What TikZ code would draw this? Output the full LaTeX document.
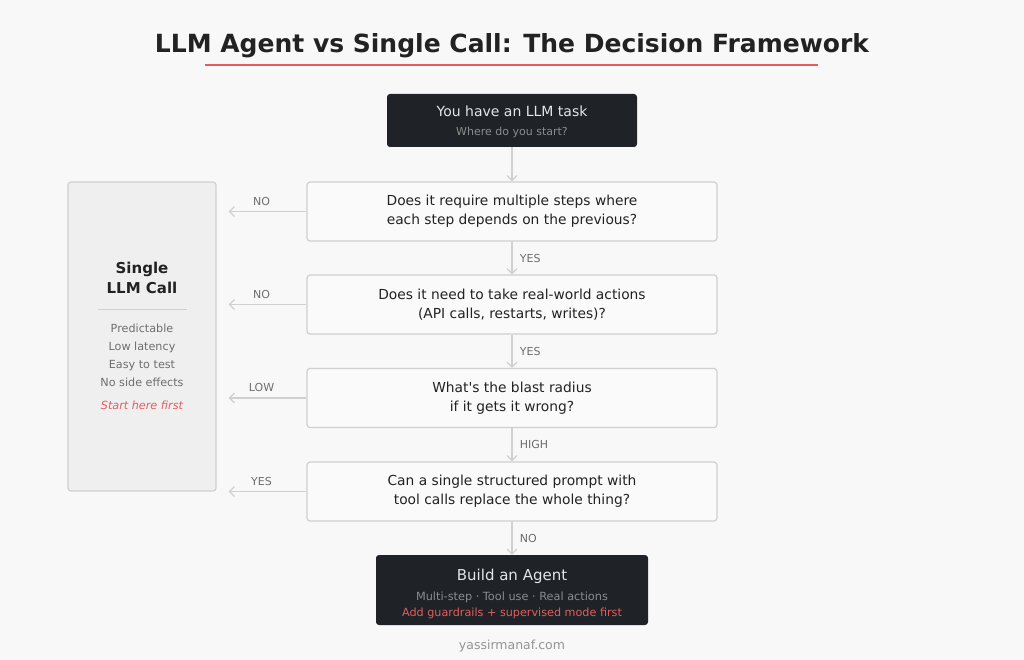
\documentclass[tikz,border=0pt]{standalone}
\usepackage{fontspec}
\setmainfont{DejaVu Sans}
\usetikzlibrary{arrows.meta,positioning}
\definecolor{bgcol}{HTML}{F8F8F8}
\definecolor{darkbox}{HTML}{1F2327}
\definecolor{linecol}{HTML}{D0D0D0}
\definecolor{qfill}{HTML}{FAFAFA}
\definecolor{sidefill}{HTML}{EFEFEF}
\definecolor{inkcol}{HTML}{222222}
\definecolor{mutedcol}{HTML}{6E6E6E}
\definecolor{redcol}{HTML}{E35D5D}

\tikzset{
    question/.style = {draw = linecol, fill = qfill, rounded corners = 3pt, line width = 1.2pt,
        minimum width = 410pt, minimum height = 59pt, align = center, text = inkcol,
        font = \fontsize{13.8}{19}\selectfont},
    darkbox/.style = {fill = darkbox, rounded corners = 3pt, align = center},
    flow/.style = {-{Straight Barb[length=5pt, width=10pt]}, draw = linecol, line width = 1.2pt},
    answer/.style = {text = mutedcol, font = \fontsize{11}{13}\selectfont},
}

\begin{document}
\begin{tikzpicture}[x = 1pt, y = -1pt]

        % Page and title
        \useasboundingbox[fill = bgcol] (0,0) rectangle (1024,660);
        \node[font = \fontsize{25}{28}\selectfont\bfseries, text = inkcol] (title) at (512,46) {LLM Agent vs Single Call: The Decision Framework};
        \draw[redcol, line width = 2.5pt] (205,65) -- (818,65);

        % Start box
        \node[darkbox, minimum width = 250pt, minimum height = 53pt] (start) at (512,120.5) {};
        \node[text = black!10, font = \fontsize{14}{16}\selectfont] (starttop) at (512,111) {You have an LLM task};
        \node[text = black!45, font = \fontsize{11}{13}\selectfont] (startsub) at (512,132) {Where do you start?};

        % Questions
        \node[question] (steps) at (512,211.5) {Does it require multiple steps where\\each step depends on the previous?};
        \node[question] (actions) at (512,304.5) {Does it need to take real-world actions\\(API calls, restarts, writes)?};
        \node[question] (blast) at (512,398) {What\textquotesingle s the blast radius\\if it gets it wrong?};
        \node[question] (prompt) at (512,491.5) {Can a single structured prompt with\\tool calls replace the whole thing?};

        % Single call box
        \node[draw = linecol, fill = sidefill, rounded corners = 3pt, line width = 1.2pt,
            minimum width = 148pt, minimum height = 309pt] (single) at (142,336.5) {};
        \node[text = inkcol, align = center, font = \fontsize{15}{20}\selectfont\bfseries] (singletitle) at (142,278) {Single\\LLM Call};
        \draw[linecol, line width = 1pt] (98,309) -- (187,309);
        \node[text = mutedcol, align = center, font = \fontsize{11.2}{18}\selectfont] (singlepros) at (142,355) {Predictable\\Low latency\\Easy to test\\No side effects};
        \node[text = redcol, font = \fontsize{11.2}{14}\selectfont\itshape] (singlenote) at (142,405) {Start here first};

        % Agent box
        \node[darkbox, minimum width = 272pt, minimum height = 70pt] (agent) at (512,590) {};
        \node[text = black!10, font = \fontsize{15}{18}\selectfont] (agenttop) at (512,576) {Build an Agent};
        \node[text = black!45, font = \fontsize{11.3}{13}\selectfont] (agentsub) at (512,597) {Multi-step · Tool use · Real actions};
        \node[text = redcol, font = \fontsize{11.2}{13}\selectfont] (agentnote) at (512,613) {Add guardrails + supervised mode first};

        % Footer
        \node[text = black!42, font = \fontsize{12.5}{14}\selectfont] (footer) at (512,646) {yassirmanaf.com};

        % Down arrows
        \draw[flow] (start) -- (steps);
        \draw[flow] (steps) -- node[answer, right = 4pt] {YES} (actions);
        \draw[flow] (actions) -- node[answer, right = 4pt] {YES} (blast);
        \draw[flow] (blast) -- node[answer, right = 4pt] {HIGH} (prompt);
        \draw[flow] (prompt) -- node[answer, right = 4pt] {NO} (agent);

        % Left arrows
        \draw[flow, shorten > = 12pt] (steps.west) -- node[answer, above = 2pt] {NO} (steps.west -| single.east);
        \draw[flow, shorten > = 12pt] (actions.west) -- node[answer, above = 2pt] {NO} (actions.west -| single.east);
        \draw[flow, shorten > = 12pt] (blast.west) -- node[answer, above = 2pt] {LOW} (blast.west -| single.east);
        \draw[flow, shorten > = 12pt] (prompt.west) -- node[answer, above = 2pt] {YES} (prompt.west -| single.east);
    \end{tikzpicture}
\end{document}
